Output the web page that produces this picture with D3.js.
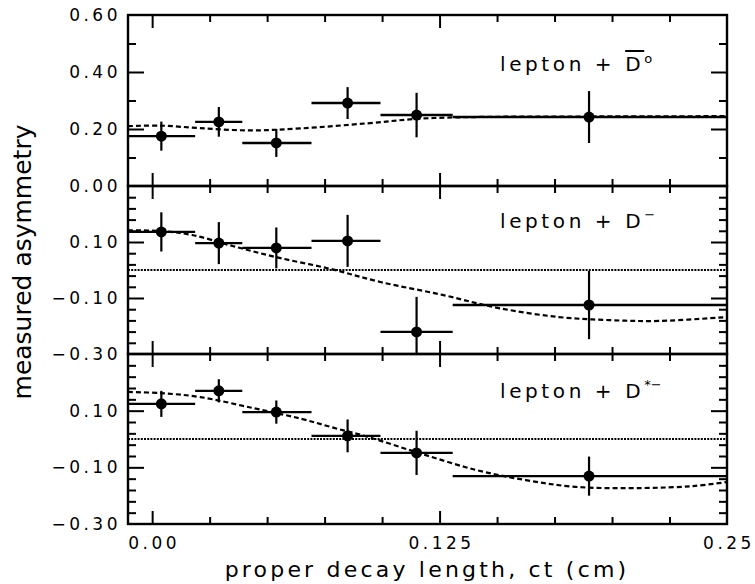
<!DOCTYPE html>
<html>
<head>
<meta charset="utf-8">
<script src="https://cdn.jsdelivr.net/npm/d3@7"></script>
<style>
  body { margin: 0; background: #fff; }
  text { font-family: "DejaVu Sans", sans-serif; fill: #000; }
</style>
</head>
<body>
<div id="chart"></div>
<script>
// bins in proper decay length ct (cm)
const ctCenter = [0.004, 0.029, 0.054, 0.085, 0.115, 0.190];
const binLow = [-0.0105, 0.0187, 0.0392, 0.0693, 0.0993, 0.1307];
const binHigh = [0.0187, 0.0392, 0.0693, 0.0993, 0.1307, 0.25];

// lepton + anti-D0
const d0Asym = [0.175, 0.225, 0.151, 0.291, 0.249, 0.242];
const d0Err = [0.051, 0.052, 0.049, 0.056, 0.078, 0.091];
const d0FitX = [-0.0105, 0.0035, 0.0209, 0.0427, 0.0645, 0.0936, 0.1159, 0.1407, 0.195, 0.25];
const d0FitY = [0.210, 0.212, 0.203, 0.195, 0.202, 0.220, 0.236, 0.242, 0.244, 0.245];

// lepton + D-
const dmAsym = [0.136, 0.096, 0.079, 0.104, -0.221, -0.125];
const dmErr = [0.070, 0.075, 0.073, 0.093, 0.125, 0.122];
const dmFitX = [-0.0105, 0.004, 0.0174, 0.0353, 0.0544, 0.0775, 0.0993, 0.1263, 0.1507, 0.1768, 0.1986, 0.2204, 0.25];
const dmFitY = [0.142, 0.139, 0.125, 0.085, 0.045, 0.004, -0.043, -0.089, -0.136, -0.168, -0.179, -0.182, -0.168];

// lepton + D*-
const dsAsym = [0.124, 0.170, 0.095, 0.011, -0.049, -0.131];
const dsErr = [0.046, 0.041, 0.041, 0.058, 0.078, 0.069];
const dsFitX = [-0.0105, 0.0035, 0.0209, 0.044, 0.0645, 0.0788, 0.0936, 0.1159, 0.1407, 0.1625, 0.1842, 0.2134, 0.2352, 0.25];
const dsFitY = [0.166, 0.162, 0.148, 0.109, 0.072, 0.040, 0.008, -0.049, -0.109, -0.145, -0.169, -0.173, -0.166, -0.152];

// axis ticks
const xTicks = [0, 0.025, 0.05, 0.075, 0.1, 0.125, 0.15, 0.175, 0.2, 0.225];
const xMajor = [0, 0.125];
const xLabels = ["0.00", "0.125", "0.25"];
const xLabelAt = [0, 0.125, 0.25];
const topMajor = [0.2, 0.4];
const topMinor = [0.1, 0.3, 0.5];
const topLabels = [0, 0.2, 0.4, 0.6];
const lowMajor = [-0.1, 0.1];
const lowMinor = [-0.26, -0.22, -0.18, -0.14, -0.06, -0.02, 0.02, 0.06, 0.14, 0.18, 0.22, 0.26];
const lowLabels = [-0.3, -0.1, 0.1];

const width = 755, height = 584;
const left = 128, right = 727;

const svg = d3.select("#chart").append("svg")
    .attr("width", width)
    .attr("height", height);

const x = d3.scaleLinear().domain([-0.0105, 0.25]).range([left, right]);

const panels = [
    {top: 15, bottom: 186, domain: [0, 0.6], asym: d0Asym, err: d0Err, fitX: d0FitX, fitY: d0FitY,
        major: topMajor, minor: topMinor, labels: topLabels, zero: false, labelY: 71, name: "d0"},
    {top: 186, bottom: 354, domain: [-0.3, 0.3], asym: dmAsym, err: dmErr, fitX: dmFitX, fitY: dmFitY,
        major: lowMajor, minor: lowMinor, labels: lowLabels, zero: true, labelY: 228, name: "dm"},
    {top: 354, bottom: 524, domain: [-0.3, 0.3], asym: dsAsym, err: dsErr, fitX: dsFitX, fitY: dsFitY,
        major: lowMajor, minor: lowMinor, labels: lowLabels, zero: true, labelY: 398, name: "ds"}
];

panels.forEach(function (p, i) {
    let y = d3.scaleLinear().domain(p.domain).range([p.bottom, p.top]);
    let g = svg.append("g");

    g.append("clipPath").attr("id", "clip" + i)
        .append("rect")
        .attr("x", left).attr("y", p.top)
        .attr("width", right - left).attr("height", p.bottom - p.top);

    // y ticks, left and right, pointing inside
    [[d3.axisRight, left], [d3.axisLeft, right]].forEach(function (a) {
        g.append("g").attr("transform", "translate(" + a[1] + ",0)")
            .call(a[0](y).tickValues(p.major).tickSize(16).tickFormat(""))
            .call(s => s.select(".domain").remove())
            .call(s => s.selectAll("line").attr("stroke-width", 2));
        g.append("g").attr("transform", "translate(" + a[1] + ",0)")
            .call(a[0](y).tickValues(p.minor).tickSize(8).tickFormat(""))
            .call(s => s.select(".domain").remove())
            .call(s => s.selectAll("line").attr("stroke-width", 2));
    });

    // x ticks on top and bottom edges, pointing inside
    [[d3.axisBottom, p.top], [d3.axisTop, p.bottom]].forEach(function (a) {
        g.append("g").attr("transform", "translate(0," + a[1] + ")")
            .call(a[0](x).tickValues(xTicks.filter(t => !xMajor.includes(t))).tickSize(7).tickFormat(""))
            .call(s => s.select(".domain").remove())
            .call(s => s.selectAll("line").attr("stroke-width", 2));
        g.append("g").attr("transform", "translate(0," + a[1] + ")")
            .call(a[0](x).tickValues(xMajor).tickSize(13).tickFormat(""))
            .call(s => s.select(".domain").remove())
            .call(s => s.selectAll("line").attr("stroke-width", 2));
    });

    // y labels
    g.append("g").attr("transform", "translate(" + left + ",0)")
        .call(d3.axisLeft(y).tickValues(p.labels).tickSize(0).tickPadding(7).tickFormat(d3.format(".2f")))
        .call(s => s.select(".domain").remove())
        .call(s => s.selectAll("text")
            .attr("font-family", "DejaVu Sans")
            .attr("font-size", 17)
            .attr("letter-spacing", 3.5));

    let plot = g.append("g").attr("clip-path", "url(#clip" + i + ")");

    if (p.zero) {
        plot.append("line")
            .attr("x1", left).attr("x2", right)
            .attr("y1", y(0)).attr("y2", y(0))
            .attr("stroke", "#000").attr("stroke-width", 2)
            .attr("stroke-dasharray", "2,1.2");
    }

    let fit = p.fitX.map((v, k) => [v, p.fitY[k]]);
    plot.append("path")
        .datum(fit)
        .attr("fill", "none")
        .attr("stroke", "#000")
        .attr("stroke-width", 2.2)
        .attr("stroke-dasharray", "5,3")
        .attr("d", d3.line().curve(d3.curveCatmullRom)
            .x(d => x(d[0]))
            .y(d => y(d[1])));

    let pts = plot.selectAll(".pt").data(ctCenter).enter().append("g").attr("class", "pt");
    pts.append("line")
        .attr("x1", (d, k) => x(binLow[k])).attr("x2", (d, k) => x(binHigh[k]))
        .attr("y1", (d, k) => y(p.asym[k])).attr("y2", (d, k) => y(p.asym[k]))
        .attr("stroke", "#000").attr("stroke-width", 2.4);
    pts.append("line")
        .attr("x1", d => x(d)).attr("x2", d => x(d))
        .attr("y1", (d, k) => y(p.asym[k] + p.err[k])).attr("y2", (d, k) => y(p.asym[k] - p.err[k]))
        .attr("stroke", "#000").attr("stroke-width", 2.2);
    pts.append("circle")
        .attr("cx", d => x(d))
        .attr("cy", (d, k) => y(p.asym[k]))
        .attr("r", 5.5)
        .attr("fill", "#000");

    // frame
    g.append("rect")
        .attr("x", left).attr("y", p.top)
        .attr("width", right - left).attr("height", p.bottom - p.top)
        .attr("fill", "none").attr("stroke", "#000").attr("stroke-width", 2.4);

    // panel label
    let lab = g.append("text")
        .attr("x", 500).attr("y", p.labelY)
        .attr("font-size", 20)
        .attr("letter-spacing", 3.6);
    lab.append("tspan").text("lepton + ");
    if (p.name === "d0") {
        lab.append("tspan").attr("text-decoration", "overline").text("D");
        lab.append("tspan").attr("dy", -8).attr("font-size", 13).text("o");
    } else if (p.name === "dm") {
        lab.append("tspan").text("D");
        lab.append("tspan").attr("dy", -9).attr("font-size", 13).text("\u2212");
    } else {
        lab.append("tspan").text("D");
        lab.append("tspan").attr("dy", -9).attr("font-size", 13).attr("letter-spacing", 0).text("*\u2212");
    }
});

// x tick labels
svg.append("g").selectAll("text").data(xLabelAt).enter().append("text")
    .attr("x", d => x(d) + 2)
    .attr("y", 549)
    .attr("text-anchor", "middle")
    .attr("font-size", 17)
    .attr("letter-spacing", 3.5)
    .text((d, k) => xLabels[k]);

// axis titles
svg.append("text")
    .attr("x", 427).attr("y", 577)
    .attr("text-anchor", "middle")
    .attr("font-size", 22)
    .attr("letter-spacing", 3.2)
    .text("proper decay length, ct (cm)");

svg.append("text")
    .attr("transform", "translate(31,262) rotate(-90)")
    .attr("text-anchor", "middle")
    .attr("font-size", 25)
    .text("measured asymmetry");
</script>
</body>
</html>
